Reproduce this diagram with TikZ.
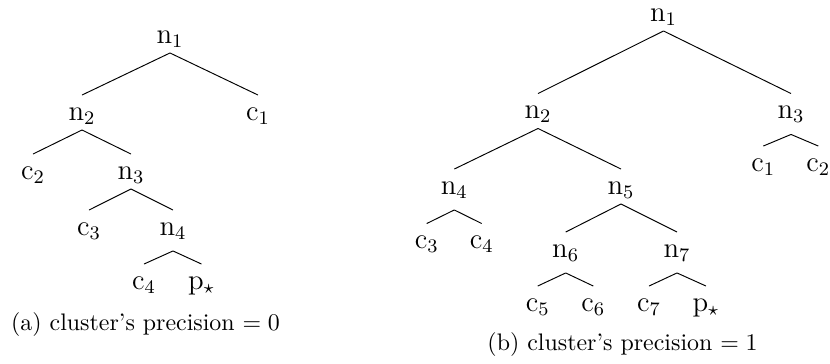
\documentclass[tikz,border=0pt]{standalone}
\usepackage{amsmath}
\begin{document}
\begin{tikzpicture}[x=0.41841pt,y=-0.41841pt,
  tn/.style={font=\large, inner ysep=2pt, inner xsep=1pt, text height=8.25pt, text depth=1.97pt, anchor=base},
  tnl/.style={tn, text depth=4.47pt},
  branch/.style={draw=black, line width=0.4pt},
  capt/.style={font=\normalsize, inner sep=0pt, anchor=base}]
\useasboundingbox (0,0) rectangle (830,363);
% left tree
\node[tn] (an1) at (170,43) {$\mathrm{n}_1$};
\node[tn] (an2) at (82,120) {$\mathrm{n}_2$};
\node[tn] (ac1) at (258,120) {$\mathrm{c}_1$};
\node[tn] (ac2) at (33,179) {$\mathrm{c}_2$};
\node[tn] (an3) at (131,179) {$\mathrm{n}_3$};
\node[tn] (ac3) at (89,235) {$\mathrm{c}_3$};
\node[tnl] (an4) at (173,235) {$\mathrm{n}_4$};
\node[tn] (ac4) at (144,289) {$\mathrm{c}_4$};
\node[tn] (ap) at (201.5,289) {$\mathrm{p}_\star$};
\draw[branch] (an1.south) -- (an2.north);
\draw[branch] (an1.south) -- (ac1.north);
\draw[branch] (an2.south) -- (ac2.north);
\draw[branch] (an2.south) -- (an3.north);
\draw[branch] (an3.south) -- (ac3.north);
\draw[branch] (an3.south) -- (an4.north);
\draw[branch] (an4.south) -- (ac4.north);
\draw[branch] (an4.south) -- (ap.north);
\node[capt] (capa) at (145.5,330) {(a) cluster's precision $= 0$};
% right tree
\node[tn] (bn1) at (663.5,21) {$\mathrm{n}_1$};
\node[tn] (bn2) at (538,118.5) {$\mathrm{n}_2$};
\node[tnl] (bn3) at (791,118.5) {$\mathrm{n}_3$};
\node[tn] (bc1) at (763.3,171) {$\mathrm{c}_1$};
\node[tn] (bc2) at (818.3,171) {$\mathrm{c}_2$};
\node[tnl] (bn4) at (454.3,194) {$\mathrm{n}_4$};
\node[tn] (bn5) at (621,194) {$\mathrm{n}_5$};
\node[tn] (bc3) at (426.7,248.5) {$\mathrm{c}_3$};
\node[tn] (bc4) at (481.7,248.5) {$\mathrm{c}_4$};
\node[tnl] (bn6) at (565.7,257) {$\mathrm{n}_6$};
\node[tnl] (bn7) at (677,257) {$\mathrm{n}_7$};
\node[tn] (bc5) at (537.7,311) {$\mathrm{c}_5$};
\node[tn] (bc6) at (593.3,311) {$\mathrm{c}_6$};
\node[tn] (bc7) at (649,311) {$\mathrm{c}_7$};
\node[tn] (bp) at (706,311) {$\mathrm{p}_\star$};
\draw[branch] (bn1.south) -- (bn2.north);
\draw[branch] (bn1.south) -- (bn3.north);
\draw[branch] (bn3.south) -- (bc1.north);
\draw[branch] (bn3.south) -- (bc2.north);
\draw[branch] (bn2.south) -- (bn4.north);
\draw[branch] (bn2.south) -- (bn5.north);
\draw[branch] (bn4.south) -- (bc3.north);
\draw[branch] (bn4.south) -- (bc4.north);
\draw[branch] (bn5.south) -- (bn6.north);
\draw[branch] (bn5.south) -- (bn7.north);
\draw[branch] (bn6.south) -- (bc5.north);
\draw[branch] (bn6.south) -- (bc6.north);
\draw[branch] (bn7.south) -- (bc7.north);
\draw[branch] (bn7.south) -- (bp.north);
\node[capt] (capb) at (622.5,350) {(b) cluster's precision $= 1$};
\end{tikzpicture}
\end{document}
